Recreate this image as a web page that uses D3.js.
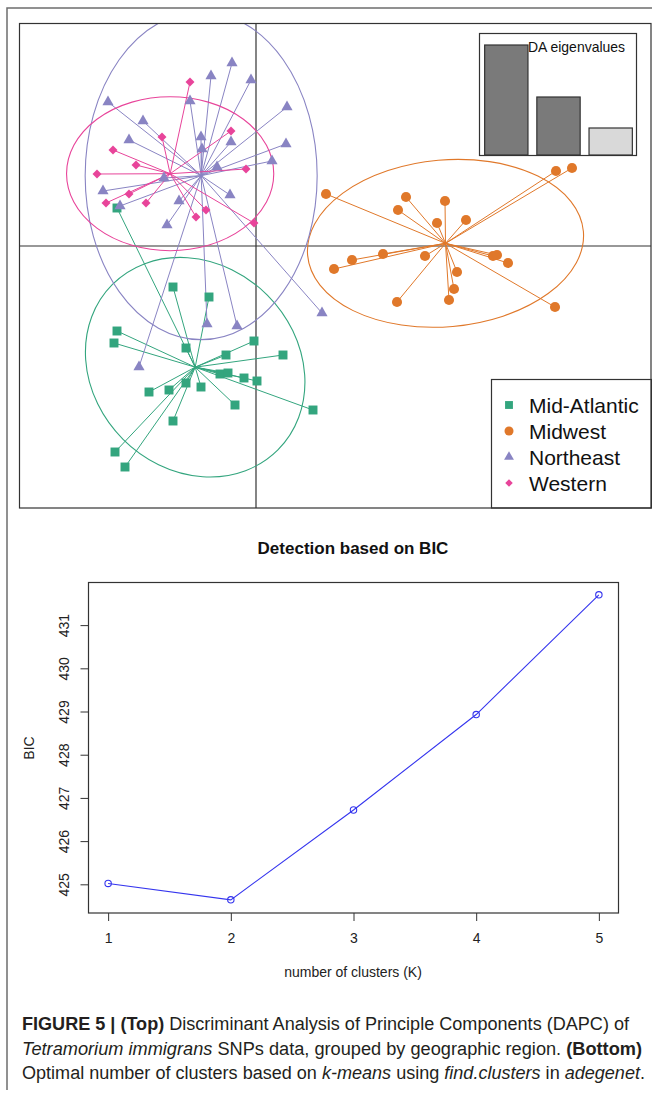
<!DOCTYPE html>
<html lang="en">
<head>
<meta charset="utf-8">
<title>DAPC / BIC</title>
<script src="https://d3js.org/d3.v7.min.js"></script>
<style>
body { margin:0; background:#fff; }
svg { display:block; font-family:"Liberation Sans", Arial, sans-serif; }
.tick line { stroke:#333; }
.tick text { fill:#222; font-size:14px; }
</style>
</head>
<body>
<div id="fig"></div>
<script>

// ---- data ----
var groups = ["Mid-Atlantic", "Midwest", "Northeast", "Western"];
var groupColors = ["#33a57e", "#e0782a", "#8984c3", "#e8449a"];

// discriminant functions (LD1, LD2)
var midAtlantic = [[-3.475,0.95],[-2.075,-1.025],[-1.175,-1.275],[-3.475,-2.125],[-3.55,-2.425],
	[-0.05,-2.375],[-1.75,-2.55],[-0.75,-2.725],[0.675,-2.725],[-0.9,-3.2],[-0.7,-3.175],
	[-0.3,-3.3],[0.025,-3.375],[-1.75,-3.425],[-2.175,-3.6],[-1.375,-3.525],[-2.675,-3.65],
	[-0.525,-3.975],[1.425,-4.1],[-2.075,-4.375],[-3.525,-5.15],[-3.275,-5.525]];
var midwest = [[1.75,1.3],[3.75,1.225],[3.55,0.9],[4.725,1.125],[4.525,0.575],[5.25,0.65],
	[7.5,1.875],[7.9,1.95],[1.95,-0.575],[2.4,-0.35],[3.175,-0.2],[4.225,-0.25],[5.925,-0.25],
	[6.025,-0.225],[6.3,-0.425],[5.025,-0.65],[4.95,-1.075],[4.825,-1.35],[3.525,-1.4],[7.475,-1.525]];
var northeast = [[-0.6,4.575],[-1.125,4.25],[-0.125,4.15],[-3.7,3.6],[-1.65,3.625],[0.775,3.475],
	[-2.825,3.125],[-3.175,2.65],[-1.375,2.725],[-0.625,2.6],[0.75,2.55],[-1.35,2.425],[0.4,2.125],
	[-0.975,1.975],[-2.3,1.7],[-3.825,1.375],[-0.65,1.275],[-1.925,1.125],[-3.4,1.0],[-2.225,0.525],
	[-1.225,-1.95],[-0.475,-2.0],[-2.925,-3.025],[1.65,-1.675]];
var western = [[-1.65,4.1],[-2.35,2.725],[-0.625,2.875],[-3.575,2.4],[-3.0,2.025],[-3.975,1.8],
	[-0.25,1.925],[-3.175,1.3],[-3.75,1.075],[-2.75,1.075],[-1.25,0.9],[-1.5,0.725],[-0.05,0.575]];

// inertia ellipses: semi-axis 1, semi-axis 2 (LD units), rotation (deg)
var ellipseAxes = [[2.925,2.55,45],[3.46,2.085,-5],[2.9,4.1,0],[2.59,1.925,0]];

var eigenvalues = [11.0, 5.8, 2.7];

var kValues = [1, 2, 3, 4, 5];
var bicValues = [425.02, 424.64, 426.72, 428.93, 431.70];
var bicTicks = [425, 426, 427, 428, 429, 430, 431];

var w = 652, h = 1093;

var svg = d3.select("#fig").append("svg")
	.attr("width", w)
	.attr("height", h);

svg.append("rect").attr("width", w).attr("height", h).attr("fill", "#fff");

// outer frame
svg.append("path")
	.attr("d", "M7,1090V8H652")
	.attr("fill", "none")
	.attr("stroke", "#6e6e6e")
	.attr("stroke-width", 1.5);

// ================= DAPC scatter =================
var x = d3.scaleLinear().domain([-5.925, 9.875]).range([19, 651]);
var y = d3.scaleLinear().domain([-6.55, 5.575]).range([508, 23]);

svg.append("clipPath").attr("id", "clip")
	.append("rect").attr("x", 19).attr("y", 23).attr("width", 632).attr("height", 485);

var plot = svg.append("g").attr("clip-path", "url(#clip)");

// axes through origin
plot.append("line").attr("x1", x(-10)).attr("x2", x(12)).attr("y1", y(0)).attr("y2", y(0))
	.attr("stroke", "#333").attr("stroke-width", 1.2);
plot.append("line").attr("x1", x(0)).attr("x2", x(0)).attr("y1", y(-8)).attr("y2", y(8))
	.attr("stroke", "#333").attr("stroke-width", 1.2);

var series = [midAtlantic, midwest, northeast, western];
var shapes = [d3.symbolSquare, d3.symbolCircle, d3.symbolTriangle, d3.symbolSquare];
var shapeSize = [80, 80, 54, 40];
var shapeRot = [0, 0, 0, 45];

series.forEach(function(pts, i) {
	var cx = d3.mean(pts, function(d) { return d[0]; });
	var cy = d3.mean(pts, function(d) { return d[1]; });
	var e = ellipseAxes[i];

	plot.append("ellipse")
		.attr("transform", "translate(" + x(cx) + "," + y(cy) + ") rotate(" + e[2] + ")")
		.attr("rx", x(e[0]) - x(0))
		.attr("ry", y(0) - y(e[1]))
		.attr("fill", "none")
		.attr("stroke", groupColors[i])
		.attr("stroke-width", 1.1);

	plot.selectAll(".seg" + i)
		.data(pts)
		.enter()
		.append("line")
		.attr("x1", x(cx)).attr("y1", y(cy))
		.attr("x2", function(d) { return x(d[0]); })
		.attr("y2", function(d) { return y(d[1]); })
		.attr("stroke", groupColors[i])
		.attr("stroke-width", 1);
});

series.forEach(function(pts, i) {
	plot.selectAll(".pt" + i)
		.data(pts)
		.enter()
		.append("path")
		.attr("d", d3.symbol().type(shapes[i]).size(shapeSize[i]))
		.attr("transform", function(d) {
			return "translate(" + x(d[0]) + "," + y(d[1]) + ") rotate(" + shapeRot[i] + ")";
		})
		.attr("fill", groupColors[i]);
});

// eigenvalue inset
var eigX = d3.scaleBand().domain([0, 1, 2]).range([481, 636]).paddingInner(0.17).paddingOuter(0.07);
var eigY = d3.scaleLinear().domain([0, eigenvalues[0]]).range([155, 45]);

svg.append("rect").attr("x", 479.5).attr("y", 33.5).attr("width", 157).attr("height", 122)
	.attr("fill", "#fff").attr("stroke", "#333").attr("stroke-width", 1.2);

svg.selectAll(".eig")
	.data(eigenvalues)
	.enter()
	.append("rect")
	.attr("x", function(d, i) { return eigX(i); })
	.attr("y", function(d) { return eigY(d); })
	.attr("width", eigX.bandwidth())
	.attr("height", function(d) { return 155 - eigY(d); })
	.attr("fill", function(d, i) { return i < 2 ? "#7a7a7a" : "#d9d9d9"; })
	.attr("stroke", "#333")
	.attr("stroke-width", 1.2);

svg.append("text").attr("x", 528).attr("y", 52)
	.attr("font-size", "14.5px").attr("fill", "#111")
	.attr("textLength", 97).attr("lengthAdjust", "spacingAndGlyphs")
	.text("DA eigenvalues");

// legend
svg.append("rect").attr("x", 491.5).attr("y", 379.5).attr("width", 160).attr("height", 128.5)
	.attr("fill", "#fff").attr("stroke", "#333").attr("stroke-width", 1.2);

var legendSize = [62, 64, 42, 28];
var leg = svg.selectAll(".leg")
	.data(groups)
	.enter()
	.append("g")
	.attr("transform", function(d, i) { return "translate(509," + (405 + i * 26) + ")"; });

leg.append("path")
	.attr("d", function(d, i) { return d3.symbol().type(shapes[i]).size(legendSize[i])(); })
	.attr("transform", function(d, i) { return "rotate(" + shapeRot[i] + ")"; })
	.attr("fill", function(d, i) { return groupColors[i]; });

leg.append("text")
	.attr("x", 20).attr("y", 8)
	.attr("font-size", "21px").attr("fill", "#111")
	.text(function(d) { return d; });

// box
svg.append("rect").attr("x", 19.5).attr("y", 23.5).attr("width", 631.5).attr("height", 484.5)
	.attr("fill", "none").attr("stroke", "#333").attr("stroke-width", 1.2);

// ================= BIC plot =================
var bx = d3.scaleLinear().domain([0.84, 5.16]).range([88.5, 618.5]);
var by = d3.scaleLinear().domain([424.336, 431.998]).range([913, 582]);

svg.append("text").attr("x", 353).attr("y", 554)
	.attr("text-anchor", "middle").attr("font-size", "17px").attr("font-weight", "bold")
	.attr("fill", "#111")
	.text("Detection based on BIC");

var xAxis = d3.axisBottom(bx).tickValues(kValues).tickFormat(d3.format("d")).tickSize(8).tickPadding(12);
var xg = svg.append("g").attr("transform", "translate(0,913)").call(xAxis);
xg.select(".domain").remove();
xg.selectAll("text").attr("font-family", null).attr("font-size", null);

var yAxis = d3.axisLeft(by).tickValues(bicTicks).tickFormat(d3.format("d")).tickSize(8);
var yg = svg.append("g").attr("transform", "translate(88.5,0)").call(yAxis);
yg.select(".domain").remove();
yg.selectAll("text")
	.attr("font-family", null).attr("font-size", null)
	.attr("transform", "rotate(-90)")
	.attr("x", 0).attr("y", -20).attr("dy", null)
	.attr("text-anchor", "middle");

svg.append("rect").attr("x", 88.5).attr("y", 582.5).attr("width", 530).attr("height", 330.5)
	.attr("fill", "none").attr("stroke", "#333").attr("stroke-width", 1.2);

var bicLine = d3.line()
	.x(function(d, i) { return bx(kValues[i]); })
	.y(function(d) { return by(d); });

svg.append("path").datum(bicValues)
	.attr("d", bicLine)
	.attr("fill", "none")
	.attr("stroke", "#3535ee")
	.attr("stroke-width", 1.1);

svg.selectAll(".bicpt")
	.data(bicValues)
	.enter()
	.append("circle")
	.attr("cx", function(d, i) { return bx(kValues[i]); })
	.attr("cy", function(d) { return by(d); })
	.attr("r", 3.2)
	.attr("fill", "none")
	.attr("stroke", "#3535ee")
	.attr("stroke-width", 1.1);

svg.append("text").attr("x", 353).attr("y", 977)
	.attr("text-anchor", "middle").attr("font-size", "14px").attr("fill", "#222")
	.text("number of clusters (K)");

svg.append("text")
	.attr("transform", "translate(34,748) rotate(-90)")
	.attr("text-anchor", "middle").attr("font-size", "14px").attr("fill", "#222")
	.text("BIC");

// ================= caption =================
var captionLines = [
	[["FIGURE 5 | (Top)", "b"], [" Discriminant Analysis of Principle Components (DAPC) of", ""]],
	[["Tetramorium immigrans", "i"], [" SNPs data, grouped by geographic region. ", ""], ["(Bottom)", "b"]],
	[["Optimal number of clusters based on ", ""], ["k-means", "i"], [" using ", ""], ["find.clusters", "i"],
		[" in ", ""], ["adegenet", "i"], [".", ""]]
];
var captionWidth = [607, 620, 623];

captionLines.forEach(function(line, i) {
	var t = svg.append("text")
		.attr("x", 22).attr("y", 1030 + i * 24.5)
		.attr("font-size", "18px").attr("fill", "#231f20")
		.attr("textLength", captionWidth[i])
		.attr("lengthAdjust", "spacingAndGlyphs");
	line.forEach(function(p) {
		t.append("tspan")
			.attr("font-weight", p[1] == "b" ? "bold" : null)
			.attr("font-style", p[1] == "i" ? "italic" : null)
			.text(p[0]);
	});
});

</script>
</body>
</html>
